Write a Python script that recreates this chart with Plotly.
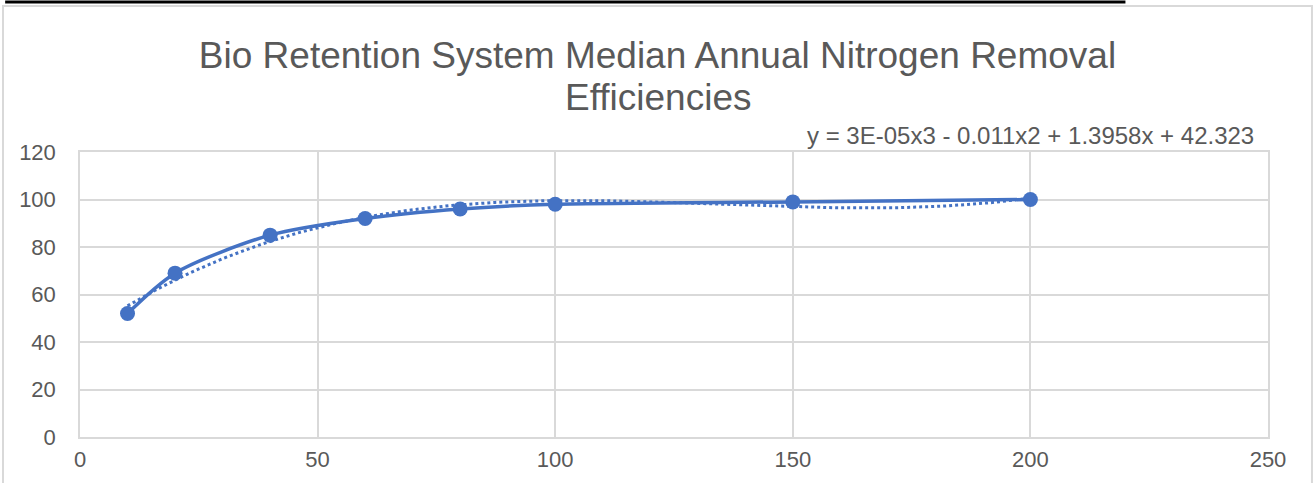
import numpy as np
import plotly.graph_objects as go

# Median annual nitrogen removal efficiency by bio-retention system size
x_vals = [10, 20, 40, 60, 80, 100, 150, 200]
y_vals = [52, 69, 85, 92, 96, 98, 99, 100]

title_line1 = "Bio Retention System Median Annual Nitrogen Removal"
title_line2 = "Efficiencies"
equation_text = "y = 3E-05x3 - 0.011x2 + 1.3958x + 42.323"

x_ticks = [0, 50, 100, 150, 200, 250]
y_ticks = [0, 20, 40, 60, 80, 100, 120]

BLUE = "#4472C4"
GRID = "#D9D9D9"
TEXT = "#595959"
FONT = "Liberation Sans, Arial, sans-serif"

# Third-order polynomial trendline fitted to the data
coef = np.polyfit(x_vals, y_vals, 3)
trend_x = np.linspace(min(x_vals), max(x_vals), 200)
trend_y = np.polyval(coef, trend_x)

fig = go.Figure()
fig.add_trace(go.Scatter(
    x=trend_x, y=trend_y, mode="lines",
    line=dict(color=BLUE, width=3, dash="dot"),
    hoverinfo="skip", showlegend=False,
))
fig.add_trace(go.Scatter(
    x=x_vals, y=y_vals, mode="lines+markers",
    line=dict(color=BLUE, width=3.5, shape="spline", smoothing=0.8),
    marker=dict(color=BLUE, size=15),
    showlegend=False,
))

fig.update_layout(
    width=1315, height=483,
    margin=dict(l=80, r=47, t=152, b=46, autoexpand=False),
    paper_bgcolor="white", plot_bgcolor="white",
    font=dict(family=FONT, color=TEXT, size=22),
    title=dict(
        text=title_line1, x=0.5, xanchor="center",
        yref="container", y=1 - 55 / 483, yanchor="middle",
        font=dict(family=FONT, size=37, color=TEXT),
    ),
    xaxis=dict(
        range=[0, 250], tickvals=x_ticks, showgrid=True, gridcolor=GRID,
        gridwidth=1.5, showline=True, linecolor=GRID, linewidth=1.5,
        mirror=True, zeroline=False, ticks="", ticklabelstandoff=2,
        automargin=False, tickfont=dict(size=22, color=TEXT),
    ),
    yaxis=dict(
        range=[0, 120], tickvals=y_ticks, showgrid=True, gridcolor=GRID,
        gridwidth=1.5, showline=True, linecolor=GRID, linewidth=1.5,
        mirror=True, zeroline=False, ticks="", ticklabelstandoff=18,
        automargin=False, tickfont=dict(size=22, color=TEXT),
    ),
    annotations=[
        dict(text=title_line2, xref="paper", yref="paper",
             x=0.5 + (657.5 - 80 - 594) / 1188, y=(437 - 97) / 285,
             xanchor="center", yanchor="middle", showarrow=False,
             font=dict(family=FONT, size=37, color=TEXT)),
        dict(text=equation_text, xref="x", yref="y", x=200, y=120,
             xanchor="center", yanchor="bottom", yshift=1, showarrow=False,
             font=dict(family=FONT, size=24, color=TEXT)),
    ],
    shapes=[
        # chart frame
        dict(type="rect", xref="paper", yref="paper",
             x0=-0.0648, x1=1.037, y0=-0.3, y1=1.512,
             line=dict(color=GRID, width=2), fillcolor="rgba(0,0,0,0)", layer="below"),
        # rule along the top edge
        dict(type="line", xref="paper", yref="paper",
             x0=-0.063, x1=0.88, y0=1.526, y1=1.526,
             line=dict(color="black", width=3)),
    ],
)

fig.write_html("out.html")
